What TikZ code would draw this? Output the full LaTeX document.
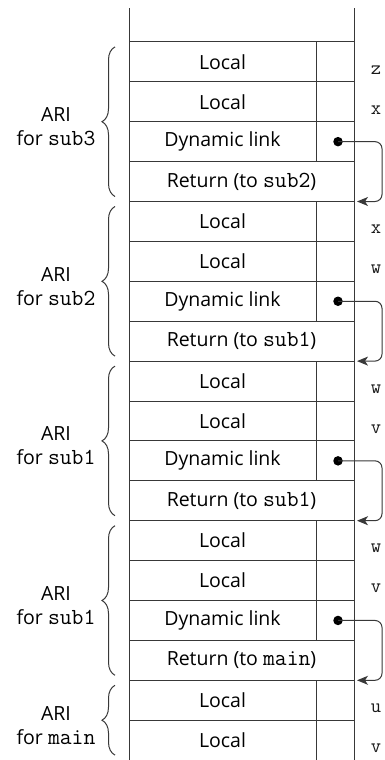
\documentclass[tikz,border=0pt]{standalone}
\usepackage{fontspec}
\setmainfont{Open Sans}
\usetikzlibrary{arrows.meta,decorations.pathreplacing}

\newcommand\cellfont{\fontsize{19.5}{24}\selectfont}
\newcommand\varfont{\fontsize{20}{24}\ttfamily}
\newcommand\cd[1]{{\fontsize{23}{24}\ttfamily #1}}

\begin{document}
\begin{tikzpicture}[x=1pt, y=-1pt, line width=1pt, color=black!78,
  cell/.style={draw, inner sep=0pt, outer sep=0pt, minimum height=39.9pt, minimum width=187pt, font=\cellfont, text=black},
  slot/.style={cell, minimum width=38pt},
  ret/.style={cell, minimum width=225pt},
  var/.style={font=\varfont, text=black!90},
  ari/.style={align=center, font=\cellfont, text=black},
  brace/.style={decorate, decoration={brace, amplitude=13pt}},
  dot/.style={circle, fill=black, inner sep=0pt, minimum size=9.5pt},
  link/.style={-{Stealth[length=11pt, width=9pt, inset=3pt]}, rounded corners=7pt}]
\useasboundingbox (0,0) rectangle (385,760);

% ARI for sub3
\node[cell] (r1) at (222.5,61.85) {Local};
\node[slot] (s1) at (335,61.85) {};
\node[cell] (r2) at (222.5,101.75) {Local};
\node[slot] (s2) at (335,101.75) {};
\node[cell] (r3) at (222.5,141.65) {Dynamic link};
\node[slot] (s3) at (335,141.65) {};
\node[ret] (r4) at (241.5,181.55) {Return (to \cd{sub2})};
\node[var] (v1) at (376,69.9) {z};
\node[var] (v2) at (376,109.8) {x};

% ARI for sub2
\node[cell] (r5) at (222.5,221.45) {Local};
\node[slot] (s5) at (335,221.45) {};
\node[cell] (r6) at (222.5,261.35) {Local};
\node[slot] (s6) at (335,261.35) {};
\node[cell] (r7) at (222.5,301.25) {Dynamic link};
\node[slot] (s7) at (335,301.25) {};
\node[ret] (r8) at (241.5,341.15) {Return (to \cd{sub1})};
\node[var] (v5) at (376,229.5) {x};
\node[var] (v6) at (376,269.4) {w};

% ARI for sub1
\node[cell] (r9) at (222.5,381.05) {Local};
\node[slot] (s9) at (335,381.05) {};
\node[cell] (r10) at (222.5,420.95) {Local};
\node[slot] (s10) at (335,420.95) {};
\node[cell] (r11) at (222.5,460.85) {Dynamic link};
\node[slot] (s11) at (335,460.85) {};
\node[ret] (r12) at (241.5,500.75) {Return (to \cd{sub1})};
\node[var] (v9) at (376,389.1) {w};
\node[var] (v10) at (376,429.0) {v};

% ARI for sub1 (first call)
\node[cell] (r13) at (222.5,540.65) {Local};
\node[slot] (s13) at (335,540.65) {};
\node[cell] (r14) at (222.5,580.55) {Local};
\node[slot] (s14) at (335,580.55) {};
\node[cell] (r15) at (222.5,620.45) {Dynamic link};
\node[slot] (s15) at (335,620.45) {};
\node[ret] (r16) at (241.5,660.35) {Return (to \cd{main})};
\node[var] (v13) at (376,548.7) {w};
\node[var] (v14) at (376,588.6) {v};

% ARI for main
\node[cell] (r17) at (222.5,700.25) {Local};
\node[slot] (s17) at (335,700.25) {};
\node[cell] (r18) at (222.5,740.15) {Local};
\node[slot] (s18) at (335,740.15) {};
\node[var] (v17) at (376,708.3) {u};
\node[var] (v18) at (376,748.2) {v};

% open top of the stack
\draw (r1.north west) -- ++(0,-34);
\draw (s1.north east) -- ++(0,-34);

% dynamic links
\node[dot] (d3) at (338,141.65) {};
\node[dot] (d7) at (338,301.25) {};
\node[dot] (d11) at (338,460.85) {};
\node[dot] (d15) at (338,620.45) {};
\draw[link] (d3.center) -- ++(44pt,0) |- ([xshift=3pt]s5.north east);
\draw[link] (d7.center) -- ++(44pt,0) |- ([xshift=3pt]s9.north east);
\draw[link] (d11.center) -- ++(44pt,0) |- ([xshift=3pt]s13.north east);
\draw[link] (d15.center) -- ++(44pt,0) |- ([xshift=3pt]s17.north east);

% braces and labels
\draw[brace] ([shift={(-14pt,5pt)}]r4.south west) -- ([shift={(-14pt,-5pt)}]r1.north west);
\draw[brace] ([shift={(-14pt,5pt)}]r8.south west) -- ([shift={(-14pt,-5pt)}]r5.north west);
\draw[brace] ([shift={(-14pt,5pt)}]r12.south west) -- ([shift={(-14pt,-5pt)}]r9.north west);
\draw[brace] ([shift={(-14pt,5pt)}]r16.south west) -- ([shift={(-14pt,-5pt)}]r13.north west);
\draw[brace] ([shift={(-14pt,5pt)}]r18.south west) -- ([shift={(-14pt,-5pt)}]r17.north west);
\node[ari] (a3) at (56,126.7) {ARI\\for \cd{sub3}};
\node[ari] (a2) at (56,286.3) {ARI\\for \cd{sub2}};
\node[ari] (a1) at (56,445.9) {ARI\\for \cd{sub1}};
\node[ari] (a1b) at (56,605.5) {ARI\\for \cd{sub1}};
\node[ari] (am) at (56,725.2) {ARI\\for \cd{main}};
\end{tikzpicture}
\end{document}
